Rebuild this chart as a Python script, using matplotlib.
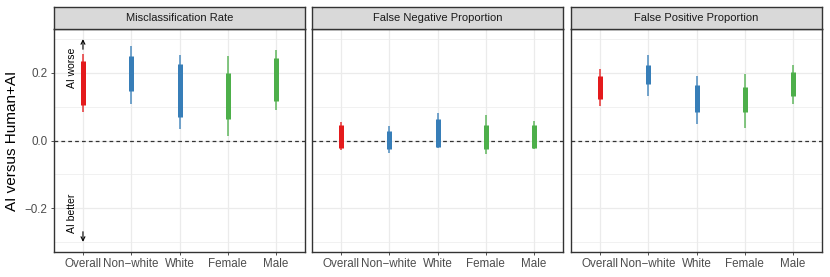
import matplotlib
matplotlib.use("Agg")
import matplotlib.pyplot as plt
import numpy as np

plt.rcParams['font.family'] = ['Liberation Sans', 'DejaVu Sans']

categories = ["Overall", "Non−white", "White", "Female", "Male"]
panels = ["Misclassification Rate", "False Negative Proportion", "False Positive Proportion"]
colors = ["#E41A1C", "#377EB8", "#377EB8", "#4DAF4A", "#4DAF4A"]

# outer (thin) interval low/high, inner (thick) interval low/high per panel
mis_lo95 = [0.083, 0.108, 0.035, 0.012, 0.089]
mis_hi95 = [0.256, 0.281, 0.254, 0.249, 0.268]
mis_lo50 = [0.106, 0.146, 0.069, 0.065, 0.118]
mis_hi50 = [0.236, 0.249, 0.226, 0.201, 0.244]

fn_lo95 = [-0.028, -0.036, -0.022, -0.039, -0.025]
fn_hi95 = [0.056, 0.043, 0.081, 0.074, 0.058]
fn_lo50 = [-0.022, -0.025, -0.018, -0.025, -0.021]
fn_hi50 = [0.047, 0.029, 0.064, 0.046, 0.046]

fp_lo95 = [0.101, 0.132, 0.049, 0.037, 0.109]
fp_hi95 = [0.212, 0.254, 0.191, 0.197, 0.224]
fp_lo50 = [0.123, 0.167, 0.083, 0.084, 0.133]
fp_hi50 = [0.192, 0.224, 0.165, 0.157, 0.203]

data = [
    (mis_lo95, mis_hi95, mis_lo50, mis_hi50),
    (fn_lo95, fn_hi95, fn_lo50, fn_hi50),
    (fp_lo95, fp_hi95, fp_lo50, fp_hi50),
]

W, H = 830, 277
fig = plt.figure(figsize=(W / 100, H / 100), dpi=100)

panel_x = [(54, 305), (312, 563), (571, 822)]
top, bottom, strip_top = 29, 252, 7

x = np.arange(1, len(categories) + 1)
for i, (x0, x1) in enumerate(panel_x):
    ax = fig.add_axes([x0 / W, 1 - bottom / H, (x1 - x0) / W, (bottom - top) / H])
    lo95, hi95, lo50, hi50 = data[i]
    ax.set_xlim(0.4, 5.6)
    ax.set_ylim(-0.33, 0.33)
    ax.set_yticks([-0.2, 0.0, 0.2])
    ax.set_yticks([-0.3, -0.1, 0.1, 0.3], minor=True)
    ax.set_xticks(x)
    ax.set_xticklabels(categories)
    ax.grid(True, which='major', color='#EBEBEB', lw=0.9, zorder=0)
    ax.grid(True, which='minor', axis='y', color='#EBEBEB', lw=0.5, zorder=0)
    ax.set_axisbelow(True)
    ax.tick_params(axis='both', which='major', colors='#333333', length=2.5, width=0.6,
                   labelcolor='#4D4D4D', labelsize=8.4, pad=2)
    ax.tick_params(axis='y', which='minor', length=0)
    if i > 0:
        ax.tick_params(axis='y', labelleft=False, length=0)
    for s in ax.spines.values():
        s.set_color('#333333')
        s.set_linewidth(1.0)
    ax.axhline(0, color='#333333', ls=(0, (3, 2.5)), lw=0.9, zorder=1)
    for j in range(len(categories)):
        ax.vlines(x[j], lo95[j], hi95[j], color=colors[j], lw=1.3, alpha=0.75, zorder=2)
        ax.vlines(x[j], lo50[j], hi50[j], color=colors[j], lw=3.6, zorder=3)
    if i == 0:
        ax.set_ylabel("AI versus Human+AI", fontsize=11, color='black', labelpad=4)
        ax.annotate("", xy=(1, 0.30), xytext=(1, 0.27),
                    arrowprops=dict(arrowstyle='->', color='black', lw=0.8,
                                    shrinkA=0, shrinkB=0, mutation_scale=7), zorder=4)
        ax.annotate("", xy=(1, -0.30), xytext=(1, -0.27),
                    arrowprops=dict(arrowstyle='->', color='black', lw=0.8,
                                    shrinkA=0, shrinkB=0, mutation_scale=7), zorder=4)
        ax.text(0.77, 0.215, "AI worse", rotation=90, ha='center', va='center',
                fontsize=7.5, color='black')
        ax.text(0.77, -0.215, "AI better", rotation=90, ha='center', va='center',
                fontsize=7.5, color='black')
    # strip
    sax = fig.add_axes([x0 / W, 1 - top / H, (x1 - x0) / W, (top - strip_top) / H])
    sax.set_facecolor('#D9D9D9')
    sax.set_xticks([])
    sax.set_yticks([])
    for s in sax.spines.values():
        s.set_color('#333333')
        s.set_linewidth(1.0)
    sax.text(0.5, 0.5, panels[i], ha='center', va='center', fontsize=8,
             color='#1A1A1A', transform=sax.transAxes)

fig.savefig("out.png", dpi=100)
